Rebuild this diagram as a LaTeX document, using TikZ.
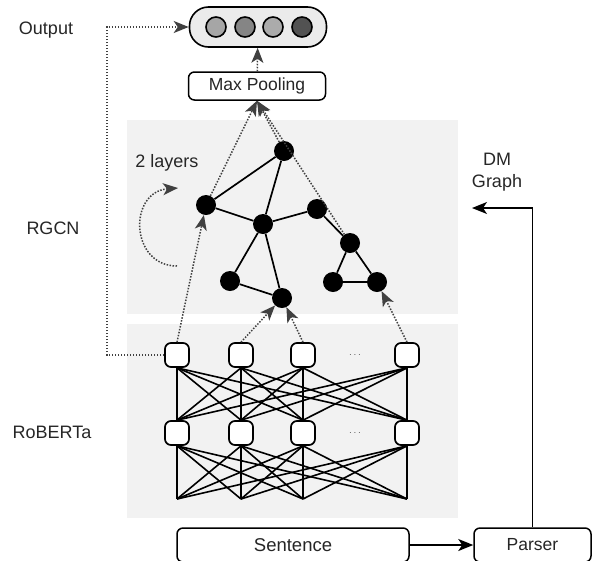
\documentclass[tikz,border=0pt]{standalone}
\usepackage{fontspec}
\setmainfont{Liberation Sans}
\usetikzlibrary{arrows.meta}
\tikzstyle{gnode}=[circle, fill=black, minimum size=20pt, inner sep=0pt]
\tikzstyle{unit}=[draw=black, line width=1.7pt, fill=white, rounded corners=6pt, minimum size=24pt, inner sep=0pt]
\tikzstyle{box}=[draw=black, line width=1.5pt, fill=white, rounded corners=6pt, inner sep=0pt, text=black!85, font=\fontsize{17.5}{20}\selectfont]
\tikzstyle{dot}=[circle, draw=black, line width=1.6pt, minimum size=20pt, inner sep=0pt]
\tikzstyle{flow}=[dash pattern=on 1.5pt off 1.5pt, line width=1.5pt, draw=black!75]
\tikzstyle{lbl}=[text=black!85, font=\fontsize{18}{22}\selectfont]
\tikzset{>={Stealth[length=15pt,width=12pt,inset=4pt]}}

\begin{document}
\begin{tikzpicture}[x=1pt,y=-1pt]
        \useasboundingbox (0,0) rectangle (593,560);

        % Panels
        \fill[black!5] (127,120) rectangle (458,314);
        \fill[black!5] (127,324) rectangle (458,518);

        % Output
        \node at (258,27) [draw=black, line width=1.6pt, fill=black!8, rounded corners=19pt, minimum width=137pt, minimum height=40pt] (out) {};
        \foreach \i/\x/\c in {1/216/black!35, 2/245/black!48, 3/273/black!33, 4/302/black!68}
          \node at (\x,27) [dot, fill=\c] (o_\i) {};

        \node at (257,86) [box, minimum width=137pt, minimum height=28pt] (mp) {Max Pooling};
        \draw [flow, ->] (mp) to (out);

        % RGCN
        \foreach \n/\x/\y in {1/284/151, 2/206/205, 3/263/224, 4/317/209, 5/350/243,
                              6/230/281, 7/282/298, 8/333/282, 9/377/282}
          \node at (\x,\y) [gnode] (g_\n) {};

        \foreach \a/\b in {2/1, 1/3, 2/3, 3/4, 4/5, 3/6, 3/7, 6/7, 5/8, 5/9, 8/9}
          \draw [line width=1.7pt] (g_\a) to (g_\b);

        \foreach \n in {2,1,5}
          \draw [flow, ->] (g_\n) to (mp.south);

        \coordinate (loop_a) at (177,266);
        \coordinate (loop_b) at (178,188);
        \draw [flow, ->] (loop_a) .. controls (130,266) and (128,192) .. (loop_b);

        % RoBERTa
        \foreach \i/\x in {1/177, 2/241, 3/303, 4/407}
        {
          \node at (\x,355) [unit] (t_\i) {};
          \node at (\x,433) [unit] (m_\i) {};
          \coordinate (b_\i) at (\x,499);
        }
        \node at (355,355) [text=black!70] (t_dots) {$\cdots$};
        \node at (355,433) [text=black!70] (m_dots) {$\cdots$};

        \foreach \i in {1,...,4}
          \foreach \j in {1,...,4}
          {
            \draw [line width=1.6pt] (t_\i.south) to (m_\j.north);
            \draw [line width=1.6pt] (m_\i.south) to (b_\j);
          }

        \draw [flow, ->] (t_1.north) to (g_2);
        \draw [flow, ->] (t_2.north) to (g_7);
        \draw [flow, ->] (t_3.north) to (g_7);
        \draw [flow, ->] (t_4.north) to (g_9);

        \coordinate (side) at (107,27);
        \draw [flow, ->] (t_1.west) -| (side) -- (out.west);

        % Input
        \node at (293,545) [box, minimum width=232pt, minimum height=34pt, font=\fontsize{18.5}{21}\selectfont] (sent) {Sentence};
        \node at (532.5,545) [box, minimum width=117pt, minimum height=34pt] (pars) {Parser};
        \draw [line width=1.6pt, ->] (sent) to (pars);
        \coordinate (dm_in) at (472,208);
        \draw [line width=1.6pt, ->] (pars.north) |- (dm_in);

        % Text
        \node at (46,30) [lbl] (t_out) {Output};
        \node at (53,228) [lbl] (t_rgcn) {RGCN};
        \node at (52,432) [lbl] (t_rob) {RoBERTa};
        \node at (497,172) [lbl, align=center] (t_dm) {DM\\Graph};
        \node at (167,163) [lbl] (t_layers) {2 layers};
\end{tikzpicture}
\end{document}
